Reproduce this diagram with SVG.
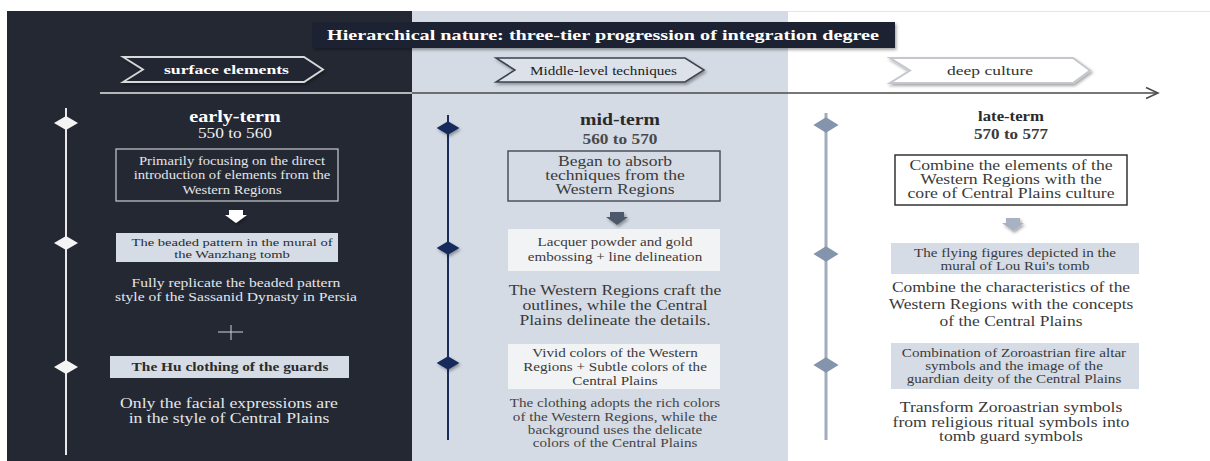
<svg xmlns="http://www.w3.org/2000/svg" width="1210" height="461" viewBox="0 0 1210 461">
<style>
text{font-family:"Liberation Serif","Times New Roman",serif;text-anchor:middle}
.b{font-weight:bold}
.lt{fill:#e4e6ea}
.dk{fill:#2b2b2b}
.md{fill:#3a3a3a}
.lbox{fill:#d6dce6}
.wbox{fill:#f2f3f5}
</style>
<defs>
<filter id="sh" x="-20%" y="-40%" width="140%" height="190%"><feDropShadow dx="1.5" dy="2" stdDeviation="1.5" flood-color="#000" flood-opacity="0.35"/></filter>
<path id="dm" d="M-12 0L0-7L12 0L0 7Z"/>
<path id="da" d="M-7-6H7V-1H11L0 7L-11-1H-7Z"/>
</defs>
<rect width="1210" height="461" fill="#fff"/>
<g id="panels">
<rect x="7" y="11" width="405" height="450" fill="#232833"/>
<rect x="412" y="11" width="376" height="450" fill="#d5dbe5"/>
<line x1="788" y1="11.5" x2="1210" y2="11.5" stroke="#e4e6ea"/>
</g>
<g id="title">
<rect x="312" y="22" width="583" height="26" fill="#1f2430" filter="url(#sh)"/>
<text class="b" x="603" y="40" font-size="14.5" fill="#fff" textLength="552" lengthAdjust="spacingAndGlyphs">Hierarchical nature: three-tier progression of integration degree</text>
</g>
<g id="tier-surface">
<polygon points="123,57 304,57 323,69.5 304,82 123,82 143,69.5" fill="#232833" stroke="#d9d9d9" stroke-width="1.8" filter="url(#sh)"/>
<text class="b" x="226.5" y="74" font-size="13.5" fill="#fff" textLength="125" lengthAdjust="spacingAndGlyphs">surface elements</text>
</g>
<g id="tier-middle">
<polygon points="496,58 685,58 704,70 685,82 496,82 515,70" fill="#dde2ea" stroke="#3d4350" stroke-width="1.5" filter="url(#sh)"/>
<text x="603.5" y="74.5" font-size="12.5" fill="#1a1a1a" textLength="147" lengthAdjust="spacingAndGlyphs">Middle-level techniques</text>
</g>
<g id="tier-deep">
<polygon points="890,58 1073,58 1090,70.5 1073,83 890,83 910,70.5" fill="#fff" stroke="#c4c8ce" stroke-width="2" filter="url(#sh)"/>
<text x="990" y="75" font-size="13.5" fill="#333" textLength="86" lengthAdjust="spacingAndGlyphs">deep culture</text>
</g>
<g id="connectors">
<line x1="100" y1="93" x2="412" y2="93" stroke="#e6e6e6" stroke-width="1.5"/>
<line x1="412" y1="93" x2="1157" y2="93" stroke="#4a4a4a" stroke-width="1.5"/>
<polyline points="1146,87.5 1158,93 1146,98.5" fill="none" stroke="#4a4a4a" stroke-width="1.5"/>
<line x1="66" y1="108" x2="66" y2="455" stroke="#e8e8e8" stroke-width="2"/>
<line x1="448" y1="115" x2="448" y2="440" stroke="#1b2c5b" stroke-width="2"/>
<line x1="826" y1="113" x2="826" y2="440" stroke="#a2acbc" stroke-width="3"/>
<use href="#da" transform="translate(236 216)" fill="#fff" filter="url(#sh)"/>
<use href="#da" transform="translate(617 218)" fill="#4d586b" filter="url(#sh)"/>
<use href="#da" transform="translate(1013 224)" fill="#a8b2c2" filter="url(#sh)"/>
</g>
<g id="markers">
<use href="#dm" transform="translate(66 123)" fill="#f4f4f4"/>
<use href="#dm" transform="translate(66 243)" fill="#f4f4f4"/>
<use href="#dm" transform="translate(66 367)" fill="#f4f4f4"/>
<use href="#dm" transform="translate(448 128) scale(0.95)" fill="#13295c" filter="url(#sh)"/>
<use href="#dm" transform="translate(448 248) scale(0.95)" fill="#13295c" filter="url(#sh)"/>
<use href="#dm" transform="translate(448 363) scale(0.95)" fill="#13295c" filter="url(#sh)"/>
<use href="#dm" transform="translate(826 125) scale(1.05 1.1)" fill="#8494ad"/>
<use href="#dm" transform="translate(826 254) scale(1.05 1.1)" fill="#8494ad"/>
<use href="#dm" transform="translate(826 365) scale(1.05 1.1)" fill="#8494ad"/>
</g>
<g id="early-heading"><g transform="translate(235 0) scale(1.22 1)">
<text class="b" y="122.5" font-size="16.5" fill="#fff">early-term</text>
<text y="138.5" font-size="14.2" fill="#f0f0f0">550 to 560</text>
</g></g>
<g id="early-intro">
<rect x="116" y="149" width="222" height="52" fill="none" stroke="#c9cbd0" stroke-width="1.2"/>
<g transform="translate(232 0) scale(1.22 1)" class="lt" font-size="12"><text y="165">Primarily focusing on the direct</text><text y="179">introduction of elements from the</text><text y="194">Western Regions</text></g>
</g>
<g id="early-beaded">
<rect x="116" y="233" width="222" height="29" class="lbox"/>
<g transform="translate(232 0) scale(1.3 1)" class="dk" font-size="11.2"><text y="246.5">The beaded pattern in the mural of</text><text y="258">the Wanzhang tomb</text></g>
</g>
<g id="early-beaded-note"><g transform="translate(236 0) scale(1.22 1)" class="lt" font-size="12.8"><text y="287">Fully replicate the beaded pattern</text><text y="301">style of the Sassanid Dynasty in Persia</text></g></g>
<g id="early-plus"><path d="M218 332H243M231 325V340" stroke="#cfd1d6" stroke-width="1"/></g>
<g id="early-hu">
<rect x="110" y="356" width="239" height="22" class="lbox"/>
<g transform="translate(230 0) scale(1.22 1)"><text class="b dk" y="371" font-size="12.6">The Hu clothing of the guards</text></g>
</g>
<g id="early-hu-note"><g transform="translate(229 0) scale(1.22 1)" class="lt" font-size="14.5"><text y="408">Only the facial expressions are</text><text y="423">in the style of Central Plains</text></g></g>
<g id="mid-heading"><g transform="translate(620 0) scale(1.22 1)">
<text class="b" y="125" font-size="16.2" fill="#2a2a2a">mid-term</text>
<text class="b" y="144" font-size="14.2" fill="#4a4a4a">560 to 570</text>
</g></g>
<g id="mid-intro">
<rect x="508" y="151" width="212" height="50" fill="none" stroke="#4d525c" stroke-width="1.5"/>
<g transform="translate(615 0) scale(1.22 1)" class="md" font-size="14.4"><text y="166">Began to absorb</text><text y="180">techniques from the</text><text y="194">Western Regions</text></g>
</g>
<g id="mid-lacquer">
<rect x="508" y="229" width="212" height="42" class="wbox"/>
<g transform="translate(615 0) scale(1.22 1)" class="md" font-size="12.4"><text y="246">Lacquer powder and gold</text><text y="261">embossing + line delineation</text></g>
</g>
<g id="mid-lacquer-note"><g transform="translate(615 0) scale(1.22 1)" class="md" font-size="14.4"><text y="295">The Western Regions craft the</text><text y="310">outlines, while the Central</text><text y="325">Plains delineate the details.</text></g></g>
<g id="mid-colors">
<rect x="508" y="344" width="212" height="45" class="wbox"/>
<g transform="translate(615 0) scale(1.22 1)" class="md" font-size="12.4"><text y="357">Vivid colors of the Western</text><text y="371">Regions + Subtle colors of the</text><text y="385">Central Plains</text></g>
</g>
<g id="mid-colors-note"><g transform="translate(615 0) scale(1.22 1)" fill="#444" font-size="12.4"><text y="407">The clothing adopts the rich colors</text><text y="421">of the Western Regions, while the</text><text y="434">background uses the delicate</text><text y="447">colors of the Central Plains</text></g></g>
<g id="late-heading"><g transform="translate(1011 0) scale(1.22 1)">
<text class="b" y="121" font-size="13.7" fill="#2a2a2a">late-term</text>
<text class="b" y="139" font-size="14" fill="#3a3a3a">570 to 577</text>
</g></g>
<g id="late-intro">
<rect x="895" y="155" width="232" height="50" fill="#fff" stroke="#333" stroke-width="1.5"/>
<g transform="translate(1011 0) scale(1.22 1)" class="md" font-size="14.5"><text y="170">Combine the elements of the</text><text y="184">Western Regions with the</text><text y="198">core of Central Plains culture</text></g>
</g>
<g id="late-flying">
<rect x="891" y="243" width="248" height="31" class="lbox"/>
<g transform="translate(1015 0) scale(1.22 1)" class="md" font-size="12.4"><text y="257">The flying figures depicted in the</text><text y="270">mural of Lou Rui's tomb</text></g>
</g>
<g id="late-flying-note"><g transform="translate(1011 0) scale(1.22 1)" class="md" font-size="14.3"><text y="292">Combine the characteristics of the</text><text y="309">Western Regions with the concepts</text><text y="326">of the Central Plains</text></g></g>
<g id="late-zoroastrian">
<rect x="891" y="343" width="248" height="46" class="lbox"/>
<g transform="translate(1014 0) scale(1.22 1)" class="md" font-size="12.4"><text y="357">Combination of Zoroastrian fire altar</text><text y="370">symbols and the image of the</text><text y="383">guardian deity of the Central Plains</text></g>
</g>
<g id="late-zoroastrian-note"><g transform="translate(1011 0) scale(1.22 1)" class="md" font-size="14.45"><text y="412">Transform Zoroastrian symbols</text><text y="427">from religious ritual symbols into</text><text y="441">tomb guard symbols</text></g></g>
</svg>
